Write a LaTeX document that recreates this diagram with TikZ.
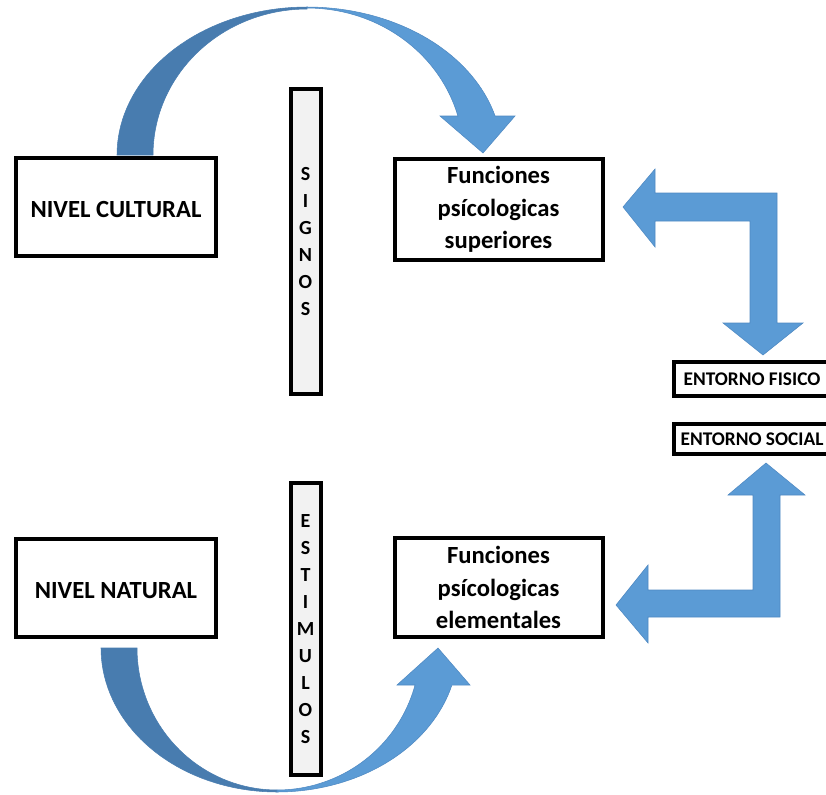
\documentclass[tikz,border=0pt]{standalone}
\usepackage{fontspec}
\setmainfont{Carlito}
\definecolor{arrlight}{HTML}{5B9BD5}
\definecolor{arrdark}{HTML}{487CAF}
\definecolor{arredge}{HTML}{4F89C2}
\definecolor{barfill}{HTML}{F2F2F2}
\begin{document}
\begin{tikzpicture}[x=0.75pt,y=-0.75pt,
  box/.style={draw, line width=3pt, fill=white, inner sep=0pt, align=center,
    font=\fontsize{18.5}{24.5}\selectfont\bfseries},
  bar/.style={draw, line width=3pt, fill=barfill, inner sep=0pt, align=center,
    minimum width=22.5pt, font=\fontsize{15}{20.25}\selectfont\bfseries},
  envbox/.style={draw, line width=3pt, fill=white, inner sep=0pt,
    font=\fontsize{14.5}{17}\selectfont\bfseries},
  lightarrow/.style={fill=arrlight, draw=arredge, line width=0.4pt},
  darkarrow/.style={fill=arrdark, draw=arrdark, line width=0.4pt}]
\useasboundingbox (0,0) rectangle (826,794);

% top curved arrow
\fill[darkarrow]
  plot[domain=180:90, samples=40] ({307+190*cos(\x)},{155-148*sin(\x)})
  -- plot[domain=90:180, samples=40] ({307+154*cos(\x)},{155-146*sin(\x)}) -- cycle;
\fill[lightarrow]
  plot[domain=90:15.28, samples=40] ({307+195*cos(\x)},{155-148*sin(\x)})
  -- (515,116) -- (483,153) -- (440,116) -- (458,116)
  -- plot[domain=15.28:90, samples=40] ({307+156.5*cos(\x)},{155-147*sin(\x)}) -- cycle;

% bottom curved arrow
\fill[darkarrow]
  plot[domain=180:270, samples=40] ({277+176*cos(\x)},{648-144*sin(\x)})
  -- plot[domain=270:180, samples=40] ({277+140*cos(\x)},{648-142*sin(\x)}) -- cycle;
\fill[lightarrow]
  plot[domain=270:345.1, samples=40] ({277+181*cos(\x)},{648-144*sin(\x)})
  -- (470,685) -- (438,648) -- (397,685) -- (415,685)
  -- plot[domain=345.1:270, samples=40] ({277+143*cos(\x)},{648-142*sin(\x)}) -- cycle;

% bent arrows
\filldraw[lightarrow] (623,207) -- (655,169) -- (655,193) -- (777,193) -- (777,323)
  -- (803,323) -- (763,355) -- (723,323) -- (750,323) -- (750,221) -- (655,221)
  -- (655,247) -- cycle;
\filldraw[lightarrow] (766,463) -- (805,495) -- (780,495) -- (780,617) -- (648,617)
  -- (648,643) -- (616,605) -- (648,565) -- (648,590) -- (753,590) -- (753,495)
  -- (728,495) -- cycle;

% boxes
\node[box, minimum width=150.4pt, minimum height=73.9pt] (cult) at (116,207) {};
\node at ([yshift=-2pt]cult.center) [font=\fontsize{18.5}{24.5}\selectfont\bfseries] (cultT) {NIVEL CULTURAL};
\node[box, minimum width=156pt, minimum height=76.1pt] (sup) at (498.5,209.5)
  {Funciones\\ psícologicas\\ superiores};
\node[box, minimum width=150.4pt, minimum height=73.5pt] (nat) at (116,588) {};
\node at ([yshift=-2pt]nat.center) [font=\fontsize{18.5}{24.5}\selectfont\bfseries] (natT) {NIVEL NATURAL};
\node[box, minimum width=156pt, minimum height=74.25pt] (elem) at (498.5,587.5)
  {Funciones\\ psícologicas\\ elementales};

% bars
\node[bar, minimum height=228.75pt] (signos) at (305.5,241.5) {S\\ I\\ G\\ N\\ O\\ S};
\node[bar, minimum height=218.6pt] (estim) at (305.5,629) {E\\ S\\ T\\ I\\ M\\ U\\ L\\ O\\ S};

% environment boxes
\node[envbox, minimum width=117pt, minimum height=25.5pt] (fisico) at (752,379) {ENTORNO FISICO};
\node[envbox, minimum width=117pt, minimum height=22.5pt] (social) at (752,439) {ENTORNO SOCIAL};
\end{tikzpicture}
\end{document}
